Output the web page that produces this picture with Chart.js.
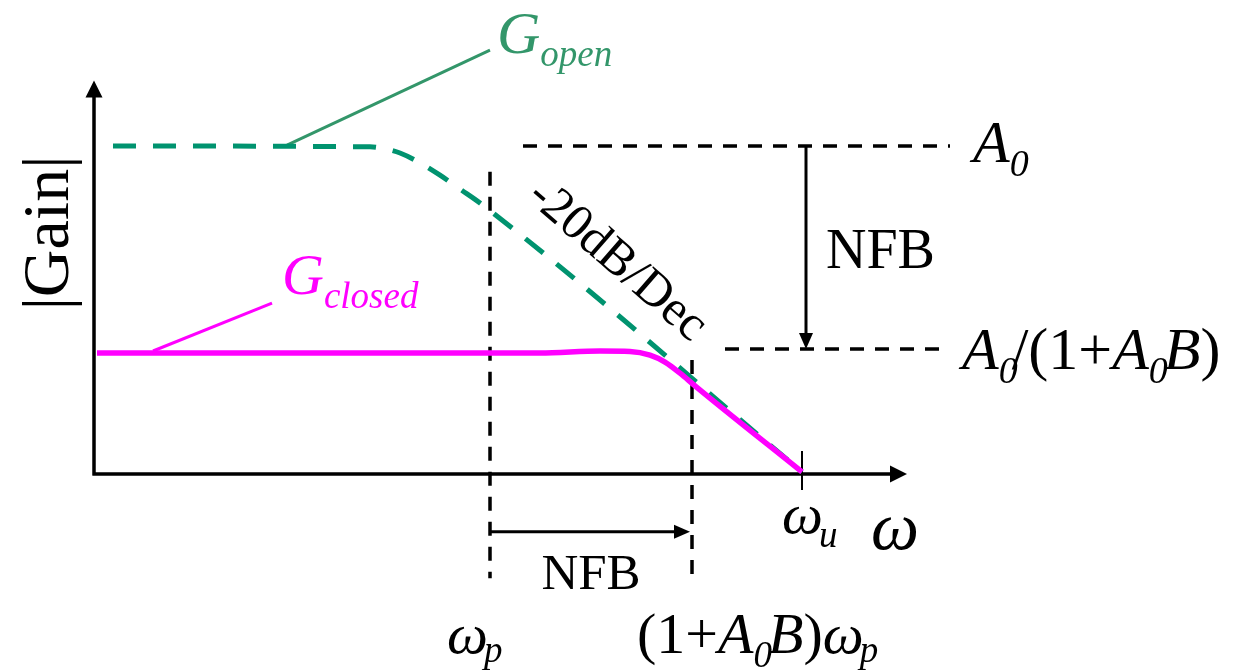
<!DOCTYPE html>
<html>
<head>
<meta charset="utf-8">
<title>Bode plot - negative feedback</title>
<script src="https://cdn.jsdelivr.net/npm/chart.js@4.4.1/dist/chart.umd.min.js"></script>
<style>
  html, body { margin: 0; padding: 0; background: #fff; }
  #wrap { width: 1233px; height: 670px; }
</style>
</head>
<body>
<div id="wrap"><canvas id="bode" width="1233" height="670"></canvas></div>
<script>
// x = log10(w) in decades, y = gain in dB
const openX = [0.19, 2.76, 2.91, 3.06, 3.26, 3.46, 3.66, 3.86, 7.08];
const openDb = [80, 79.8, 79.3, 78.3, 75.9, 72.9, 69.5, 66.1, 0.5];

const closedX = [0.03, 4.46, 5.06, 5.36, 5.56, 5.71, 5.86, 6.01, 7.08];
const closedDb = [29.5, 29.5, 30.0, 29.9, 29.0, 27.3, 24.6, 21.5, 0.5];

// corner frequencies (decades) and gain levels (dB)
const wP = 3.96;
const wC = 5.98;
const wU = 7.08;
const gainA0 = 80;
const gainClosed = 30.5;

const GREEN = "#00936f";
const GREEN_TXT = "#33966a";
const MAGENTA = "#ff00ff";
const SERIF = "'Liberation Serif', 'Times New Roman', serif";

const pts = (xs, ys) => xs.map((x, i) => ({ x: x, y: ys[i] }));

const dashed = (data) => ({
  data: data,
  borderColor: "#000",
  borderWidth: 3.5,
  borderDash: [14, 11],
  pointRadius: 0,
  order: 3,
});

const solid = (data, color, width) => ({
  data: data,
  borderColor: color,
  borderWidth: width,
  pointRadius: 0,
  order: 2,
});

//# draw a run of text pieces with different fonts / baseline shifts
function drawRuns(ctx, x, y, runs, color) {
  ctx.fillStyle = color;
  ctx.textAlign = "left";
  ctx.textBaseline = "alphabetic";
  let cx = x;
  runs.forEach((r) => {
    ctx.font = r.f;
    ctx.fillText(r.t, cx, y + (r.dy || 0));
    cx += ctx.measureText(r.t).width + (r.k || 0);
  });
}

function arrowHead(ctx, x, y, dir, len, half) {
  ctx.beginPath();
  if (dir === "up") {
    ctx.moveTo(x, y); ctx.lineTo(x - half, y + len); ctx.lineTo(x + half, y + len);
  } else if (dir === "down") {
    ctx.moveTo(x, y); ctx.lineTo(x - half, y - len); ctx.lineTo(x + half, y - len);
  } else {
    ctx.moveTo(x, y); ctx.lineTo(x - len, y - half); ctx.lineTo(x - len, y + half);
  }
  ctx.closePath();
  ctx.fill();
}

const bodeDecor = {
  id: "bodeDecor",
  beforeDatasetsDraw(chart) {
    const { ctx, scales: { x, y } } = chart;
    const ox = x.getPixelForValue(0);
    const oy = y.getPixelForValue(0);
    const top = y.getPixelForValue(96);
    const right = x.getPixelForValue(8.13);
    ctx.save();
    ctx.strokeStyle = "#000";
    ctx.fillStyle = "#000";
    ctx.lineWidth = 3.5;
    ctx.beginPath();
    ctx.moveTo(ox, oy + 1.5);
    ctx.lineTo(ox, top + 14);
    ctx.moveTo(ox - 1.5, oy);
    ctx.lineTo(right - 14, oy);
    ctx.stroke();
    arrowHead(ctx, ox, top, "up", 17, 8.5);
    arrowHead(ctx, right, oy, "right", 17, 8.5);

    // NFB arrows
    ctx.lineWidth = 3;
    const ax = x.getPixelForValue(7.12);
    const a1 = y.getPixelForValue(gainA0);
    const a2 = y.getPixelForValue(gainClosed);
    ctx.beginPath();
    ctx.moveTo(ax, a1);
    ctx.lineTo(ax, a2 - 12);
    ctx.stroke();
    arrowHead(ctx, ax, a2, "down", 16, 7);

    const hy = y.getPixelForValue(-14.1);
    const h1 = x.getPixelForValue(wP);
    const h2 = x.getPixelForValue(wC);
    ctx.beginPath();
    ctx.moveTo(h1, hy);
    ctx.lineTo(h2 - 12, hy);
    ctx.stroke();
    arrowHead(ctx, h2 - 2, hy, "right", 16, 7);
    ctx.restore();
  },
  afterDraw(chart) {
    const { ctx } = chart;
    const it = (s) => `italic ${s}px ${SERIF}`;
    const rm = (s) => `${s}px ${SERIF}`;
    ctx.save();

    // |Gain| on the vertical axis
    ctx.save();
    ctx.translate(68, 233);
    ctx.rotate(-Math.PI / 2);
    ctx.fillStyle = "#000";
    ctx.textAlign = "center";
    ctx.textBaseline = "alphabetic";
    ctx.font = rm(66);
    ctx.fillText("|Gain|", 0, 0);
    ctx.restore();

    // slope label
    ctx.save();
    ctx.translate(617, 261);
    ctx.rotate((41 * Math.PI) / 180);
    ctx.fillStyle = "#000";
    ctx.textAlign = "center";
    ctx.textBaseline = "middle";
    ctx.font = rm(50);
    ctx.fillText("-20dB/Dec", 0, 0);
    ctx.restore();

    drawRuns(ctx, 497, 53, [{ t: "G", f: it(60) }, { t: "open", f: it(37), dy: 13, k: 0 }], GREEN_TXT);
    drawRuns(ctx, 282, 294, [{ t: "G", f: it(58) }, { t: "closed", f: it(37), dy: 14 }], MAGENTA);

    drawRuns(ctx, 826, 268, [{ t: "NFB", f: rm(56) }], "#000");
    ctx.font = rm(51);
    const nw = ctx.measureText("NFB").width;
    drawRuns(ctx, 591 - nw / 2, 589, [{ t: "NFB", f: rm(51) }], "#000");

    drawRuns(ctx, 973, 162, [{ t: "A", f: it(60) }, { t: "0", f: it(38), dy: 14 }], "#000");
    drawRuns(ctx, 962, 369, [
      { t: "A", f: it(60) },
      { t: "0", f: it(38), dy: 14, k: -6 },
      { t: "/(1+", f: rm(60) },
      { t: "A", f: it(60) },
      { t: "0", f: it(38), dy: 14, k: -4 },
      { t: "B", f: it(60) },
      { t: ")", f: rm(60) },
    ], "#000");

    drawRuns(ctx, 782, 533, [{ t: "ω", f: it(58), k: -4 }, { t: "u", f: it(37), dy: 14 }], "#000");
    drawRuns(ctx, 871, 549, [{ t: "ω", f: it(68) }], "#000");

    drawRuns(ctx, 447, 653, [{ t: "ω", f: it(58), k: -4 }, { t: "p", f: it(37), dy: 9 }], "#000");
    drawRuns(ctx, 637, 653, [
      { t: "(1+", f: rm(58) },
      { t: "A", f: it(58) },
      { t: "0", f: it(37), dy: 14, k: -4 },
      { t: "B", f: it(58) },
      { t: ")", f: rm(58) },
      { t: "ω", f: it(58), k: -4 },
      { t: "p", f: it(37), dy: 9 },
    ], "#000");

    ctx.restore();
  },
};

const config = {
  type: "line",
  data: {
    datasets: [
      // closed loop response, drawn over the open loop one
      { ...solid(pts(closedX, closedDb), MAGENTA, 5.5), cubicInterpolationMode: "monotone", order: 0 },
      {
        data: pts(openX, openDb),
        borderColor: GREEN,
        borderWidth: 5,
        borderDash: [23, 17],
        pointRadius: 0,
        cubicInterpolationMode: "monotone",
        order: 1,
      },
      // reference levels and corner frequencies
      dashed([{ x: 4.29, y: gainA0 }, { x: 8.56, y: gainA0 }]),
      dashed([{ x: 6.31, y: gainClosed }, { x: 8.53, y: gainClosed }]),
      dashed([{ x: wP, y: 73.7 }, { x: wP, y: -25.4 }]),
      dashed([{ x: wC, y: 27.8 }, { x: wC, y: -25.9 }]),
      solid([{ x: wU, y: 5.6 }, { x: wU, y: -3.9 }], "#000", 2),
      // leader lines for the curve names
      solid([{ x: 1.93, y: 80.2 }, { x: 3.96, y: 103.4 }], GREEN_TXT, 3),
      solid([{ x: 0.59, y: 30 }, { x: 1.78, y: 41.7 }], MAGENTA, 3),
    ],
  },
  options: {
    responsive: false,
    devicePixelRatio: 1,
    animation: false,
    layout: { padding: 0 },
    scales: {
      x: { type: "linear", min: -0.94, max: 11.39, display: false },
      y: { type: "linear", min: -47.8, max: 115.61, display: false },
    },
    plugins: {
      legend: { display: false },
      tooltip: { enabled: false },
      title: { display: false },
    },
    elements: { line: { tension: 0 } },
  },
  plugins: [bodeDecor],
};

const ctx = document.getElementById("bode").getContext("2d");
new Chart(ctx, config);
</script>
</body>
</html>
